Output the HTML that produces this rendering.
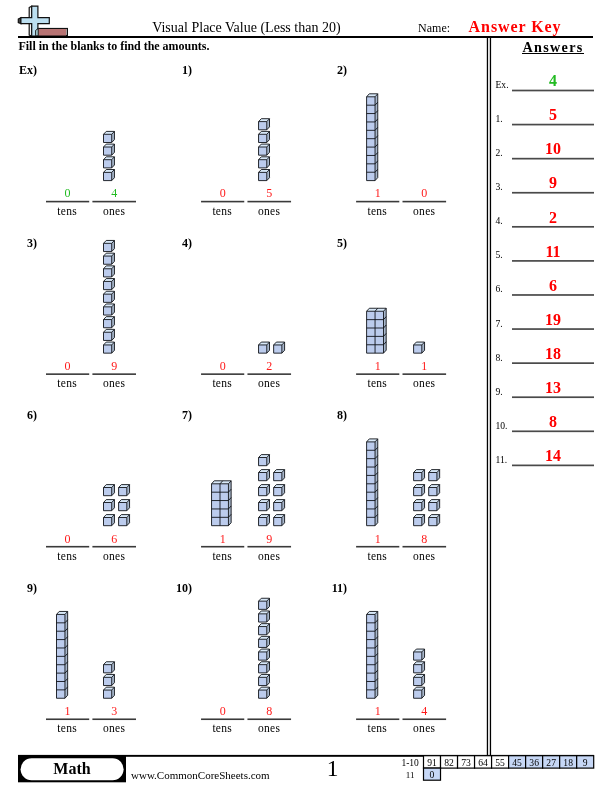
<!DOCTYPE html>
<html><head><meta charset="utf-8"><title>Visual Place Value</title>
<style>
html,body{margin:0;padding:0;background:#fff;}
body{width:612px;height:792px;overflow:hidden;position:relative;}
svg{position:absolute;left:0;top:0;display:block;font-family:"Liberation Serif", serif;transform:translateZ(0);}
</style></head><body>
<svg width="612" height="792" viewBox="0 0 612 792">
<g stroke="#111" stroke-width="1.2" stroke-linejoin="miter">
<path d="M29.2,7.6 L31.7,6.2 L31.7,36 L29.2,35 Z" fill="#f4f4f4"/>
<path d="M18.3,19.0 L20.9,17.7 L20.9,23.6 L18.3,22.6 Z" fill="#444"/>
<path d="M31.7,6.2 L37.9,6.2 L37.9,17.7 L49.3,17.7 L49.3,23.6 L37.9,23.6 L37.9,36 L31.7,36 L31.7,23.6 L20.9,23.6 L20.9,17.7 L31.7,17.7 Z" fill="#bcdff0"/>
<rect x="38.2" y="28.5" width="29.2" height="7" fill="#fff"/>
<rect x="38.2" y="28.5" width="27.9" height="7" fill="#b87474" stroke="none"/>
<path d="M38.2,28.5 H67.4 V35.5" fill="none"/>
<path d="M35.6,30.4 L38.2,28.5 L38.2,35.8 L35.6,35.8 Z" fill="#a9cfd6" stroke-width="0.9"/>
</g>
<rect x="18" y="36" width="575" height="2" fill="#000"/>
<text x="152.20" y="31.80" font-size="14" font-weight="normal" text-anchor="start" fill="#000" textLength="188.4" lengthAdjust="spacing">Visual Place Value (Less than 20)</text>
<text x="418.10" y="31.90" font-size="12" font-weight="normal" text-anchor="start" fill="#000" >Name:</text>
<text x="468.60" y="31.70" font-size="16" font-weight="bold" text-anchor="start" fill="#ff0000" textLength="92" lengthAdjust="spacing">Answer Key</text>
<text x="18.50" y="49.70" font-size="12" font-weight="bold" text-anchor="start" fill="#000" textLength="190.9" lengthAdjust="spacing">Fill in the blanks to find the amounts.</text>
<rect x="486.8" y="38" width="1.3" height="717" fill="#000"/>
<rect x="489.8" y="38" width="1.3" height="717" fill="#000"/>
<text x="522.40" y="51.60" font-size="14.2" font-weight="bold" text-anchor="start" fill="#000" textLength="60" lengthAdjust="spacing">Answers</text>
<rect x="522" y="53" width="62" height="1" fill="#000"/>
<text x="495.50" y="88.00" font-size="9.6" font-weight="normal" text-anchor="start" fill="#000" >Ex.</text>
<rect x="512" y="89.65" width="82" height="1.7" fill="#4a4a4a"/>
<text x="553.00" y="86.10" font-size="16" font-weight="bold" text-anchor="middle" fill="#22bb22" >4</text>
<text x="495.50" y="122.08" font-size="9.6" font-weight="normal" text-anchor="start" fill="#000" >1.</text>
<rect x="512" y="123.73" width="82" height="1.7" fill="#4a4a4a"/>
<text x="553.00" y="120.20" font-size="16" font-weight="bold" text-anchor="middle" fill="#ff0000" >5</text>
<text x="495.50" y="156.16" font-size="9.6" font-weight="normal" text-anchor="start" fill="#000" >2.</text>
<rect x="512" y="157.81" width="82" height="1.7" fill="#4a4a4a"/>
<text x="553.00" y="154.30" font-size="16" font-weight="bold" text-anchor="middle" fill="#ff0000" >10</text>
<text x="495.50" y="190.24" font-size="9.6" font-weight="normal" text-anchor="start" fill="#000" >3.</text>
<rect x="512" y="191.89" width="82" height="1.7" fill="#4a4a4a"/>
<text x="553.00" y="188.40" font-size="16" font-weight="bold" text-anchor="middle" fill="#ff0000" >9</text>
<text x="495.50" y="224.32" font-size="9.6" font-weight="normal" text-anchor="start" fill="#000" >4.</text>
<rect x="512" y="225.97" width="82" height="1.7" fill="#4a4a4a"/>
<text x="553.00" y="222.50" font-size="16" font-weight="bold" text-anchor="middle" fill="#ff0000" >2</text>
<text x="495.50" y="258.40" font-size="9.6" font-weight="normal" text-anchor="start" fill="#000" >5.</text>
<rect x="512" y="260.05" width="82" height="1.7" fill="#4a4a4a"/>
<text x="553.00" y="256.60" font-size="16" font-weight="bold" text-anchor="middle" fill="#ff0000" >11</text>
<text x="495.50" y="292.48" font-size="9.6" font-weight="normal" text-anchor="start" fill="#000" >6.</text>
<rect x="512" y="294.13" width="82" height="1.7" fill="#4a4a4a"/>
<text x="553.00" y="290.70" font-size="16" font-weight="bold" text-anchor="middle" fill="#ff0000" >6</text>
<text x="495.50" y="326.56" font-size="9.6" font-weight="normal" text-anchor="start" fill="#000" >7.</text>
<rect x="512" y="328.21" width="82" height="1.7" fill="#4a4a4a"/>
<text x="553.00" y="324.80" font-size="16" font-weight="bold" text-anchor="middle" fill="#ff0000" >19</text>
<text x="495.50" y="360.64" font-size="9.6" font-weight="normal" text-anchor="start" fill="#000" >8.</text>
<rect x="512" y="362.29" width="82" height="1.7" fill="#4a4a4a"/>
<text x="553.00" y="358.90" font-size="16" font-weight="bold" text-anchor="middle" fill="#ff0000" >18</text>
<text x="495.50" y="394.72" font-size="9.6" font-weight="normal" text-anchor="start" fill="#000" >9.</text>
<rect x="512" y="396.37" width="82" height="1.7" fill="#4a4a4a"/>
<text x="553.00" y="393.00" font-size="16" font-weight="bold" text-anchor="middle" fill="#ff0000" >13</text>
<text x="495.50" y="428.80" font-size="9.6" font-weight="normal" text-anchor="start" fill="#000" >10.</text>
<rect x="512" y="430.45" width="82" height="1.7" fill="#4a4a4a"/>
<text x="553.00" y="427.10" font-size="16" font-weight="bold" text-anchor="middle" fill="#ff0000" >8</text>
<text x="495.50" y="462.88" font-size="9.6" font-weight="normal" text-anchor="start" fill="#000" >11.</text>
<rect x="512" y="464.53" width="82" height="1.7" fill="#4a4a4a"/>
<text x="553.00" y="461.20" font-size="16" font-weight="bold" text-anchor="middle" fill="#ff0000" >14</text>
<text x="36.90" y="74.00" font-size="12" font-weight="bold" text-anchor="end" fill="#000" >Ex)</text>
<rect x="46.00" y="200.80" width="43.2" height="1.6" fill="#3a3a3a"/>
<rect x="92.40" y="200.80" width="43.6" height="1.6" fill="#3a3a3a"/>
<text x="67.60" y="197.40" font-size="12" font-weight="normal" text-anchor="middle" fill="#22bb22" >0</text>
<text x="114.20" y="197.40" font-size="12" font-weight="normal" text-anchor="middle" fill="#22bb22" >4</text>
<text x="67.20" y="214.70" font-size="11.5" font-weight="normal" text-anchor="middle" fill="#000" letter-spacing="0.3">tens</text>
<text x="114.10" y="214.70" font-size="11.5" font-weight="normal" text-anchor="middle" fill="#000" letter-spacing="0.3">ones</text>
<polygon points="103.50,172.40 106.25,169.50 114.45,169.50 111.70,172.40" fill="#d8e8f8"/><polygon points="111.70,172.40 114.45,169.50 114.45,177.70 111.70,180.60" fill="#a8b7cc"/><rect x="103.50" y="172.40" width="8.20" height="8.20" fill="#bccced"/><path d="M103.50,172.40 L106.25,169.50 L114.45,169.50 L114.45,177.70 L111.70,180.60 L103.50,180.60 Z M103.50,172.40 L111.70,172.40 L114.45,169.50 M111.70,172.40 L111.70,180.60" fill="none" stroke="#101318" stroke-width="0.9" stroke-linejoin="miter"/>
<polygon points="103.50,159.70 106.25,156.80 114.45,156.80 111.70,159.70" fill="#d8e8f8"/><polygon points="111.70,159.70 114.45,156.80 114.45,165.00 111.70,167.90" fill="#a8b7cc"/><rect x="103.50" y="159.70" width="8.20" height="8.20" fill="#bccced"/><path d="M103.50,159.70 L106.25,156.80 L114.45,156.80 L114.45,165.00 L111.70,167.90 L103.50,167.90 Z M103.50,159.70 L111.70,159.70 L114.45,156.80 M111.70,159.70 L111.70,167.90" fill="none" stroke="#101318" stroke-width="0.9" stroke-linejoin="miter"/>
<polygon points="103.50,147.00 106.25,144.10 114.45,144.10 111.70,147.00" fill="#d8e8f8"/><polygon points="111.70,147.00 114.45,144.10 114.45,152.30 111.70,155.20" fill="#a8b7cc"/><rect x="103.50" y="147.00" width="8.20" height="8.20" fill="#bccced"/><path d="M103.50,147.00 L106.25,144.10 L114.45,144.10 L114.45,152.30 L111.70,155.20 L103.50,155.20 Z M103.50,147.00 L111.70,147.00 L114.45,144.10 M111.70,147.00 L111.70,155.20" fill="none" stroke="#101318" stroke-width="0.9" stroke-linejoin="miter"/>
<polygon points="103.50,134.30 106.25,131.40 114.45,131.40 111.70,134.30" fill="#d8e8f8"/><polygon points="111.70,134.30 114.45,131.40 114.45,139.60 111.70,142.50" fill="#a8b7cc"/><rect x="103.50" y="134.30" width="8.20" height="8.20" fill="#bccced"/><path d="M103.50,134.30 L106.25,131.40 L114.45,131.40 L114.45,139.60 L111.70,142.50 L103.50,142.50 Z M103.50,134.30 L111.70,134.30 L114.45,131.40 M111.70,134.30 L111.70,142.50" fill="none" stroke="#101318" stroke-width="0.9" stroke-linejoin="miter"/>
<text x="191.95" y="74.00" font-size="12" font-weight="bold" text-anchor="end" fill="#000" >1)</text>
<rect x="201.05" y="200.80" width="43.2" height="1.6" fill="#3a3a3a"/>
<rect x="247.45" y="200.80" width="43.6" height="1.6" fill="#3a3a3a"/>
<text x="222.65" y="197.40" font-size="12" font-weight="normal" text-anchor="middle" fill="#ff1a1a" >0</text>
<text x="269.25" y="197.40" font-size="12" font-weight="normal" text-anchor="middle" fill="#ff1a1a" >5</text>
<text x="222.25" y="214.70" font-size="11.5" font-weight="normal" text-anchor="middle" fill="#000" letter-spacing="0.3">tens</text>
<text x="269.15" y="214.70" font-size="11.5" font-weight="normal" text-anchor="middle" fill="#000" letter-spacing="0.3">ones</text>
<polygon points="258.55,172.40 261.30,169.50 269.50,169.50 266.75,172.40" fill="#d8e8f8"/><polygon points="266.75,172.40 269.50,169.50 269.50,177.70 266.75,180.60" fill="#a8b7cc"/><rect x="258.55" y="172.40" width="8.20" height="8.20" fill="#bccced"/><path d="M258.55,172.40 L261.30,169.50 L269.50,169.50 L269.50,177.70 L266.75,180.60 L258.55,180.60 Z M258.55,172.40 L266.75,172.40 L269.50,169.50 M266.75,172.40 L266.75,180.60" fill="none" stroke="#101318" stroke-width="0.9" stroke-linejoin="miter"/>
<polygon points="258.55,159.70 261.30,156.80 269.50,156.80 266.75,159.70" fill="#d8e8f8"/><polygon points="266.75,159.70 269.50,156.80 269.50,165.00 266.75,167.90" fill="#a8b7cc"/><rect x="258.55" y="159.70" width="8.20" height="8.20" fill="#bccced"/><path d="M258.55,159.70 L261.30,156.80 L269.50,156.80 L269.50,165.00 L266.75,167.90 L258.55,167.90 Z M258.55,159.70 L266.75,159.70 L269.50,156.80 M266.75,159.70 L266.75,167.90" fill="none" stroke="#101318" stroke-width="0.9" stroke-linejoin="miter"/>
<polygon points="258.55,147.00 261.30,144.10 269.50,144.10 266.75,147.00" fill="#d8e8f8"/><polygon points="266.75,147.00 269.50,144.10 269.50,152.30 266.75,155.20" fill="#a8b7cc"/><rect x="258.55" y="147.00" width="8.20" height="8.20" fill="#bccced"/><path d="M258.55,147.00 L261.30,144.10 L269.50,144.10 L269.50,152.30 L266.75,155.20 L258.55,155.20 Z M258.55,147.00 L266.75,147.00 L269.50,144.10 M266.75,147.00 L266.75,155.20" fill="none" stroke="#101318" stroke-width="0.9" stroke-linejoin="miter"/>
<polygon points="258.55,134.30 261.30,131.40 269.50,131.40 266.75,134.30" fill="#d8e8f8"/><polygon points="266.75,134.30 269.50,131.40 269.50,139.60 266.75,142.50" fill="#a8b7cc"/><rect x="258.55" y="134.30" width="8.20" height="8.20" fill="#bccced"/><path d="M258.55,134.30 L261.30,131.40 L269.50,131.40 L269.50,139.60 L266.75,142.50 L258.55,142.50 Z M258.55,134.30 L266.75,134.30 L269.50,131.40 M266.75,134.30 L266.75,142.50" fill="none" stroke="#101318" stroke-width="0.9" stroke-linejoin="miter"/>
<polygon points="258.55,121.60 261.30,118.70 269.50,118.70 266.75,121.60" fill="#d8e8f8"/><polygon points="266.75,121.60 269.50,118.70 269.50,126.90 266.75,129.80" fill="#a8b7cc"/><rect x="258.55" y="121.60" width="8.20" height="8.20" fill="#bccced"/><path d="M258.55,121.60 L261.30,118.70 L269.50,118.70 L269.50,126.90 L266.75,129.80 L258.55,129.80 Z M258.55,121.60 L266.75,121.60 L269.50,118.70 M266.75,121.60 L266.75,129.80" fill="none" stroke="#101318" stroke-width="0.9" stroke-linejoin="miter"/>
<text x="347.00" y="74.00" font-size="12" font-weight="bold" text-anchor="end" fill="#000" >2)</text>
<rect x="356.10" y="200.80" width="43.2" height="1.6" fill="#3a3a3a"/>
<rect x="402.50" y="200.80" width="43.6" height="1.6" fill="#3a3a3a"/>
<text x="377.70" y="197.40" font-size="12" font-weight="normal" text-anchor="middle" fill="#ff1a1a" >1</text>
<text x="424.30" y="197.40" font-size="12" font-weight="normal" text-anchor="middle" fill="#ff1a1a" >0</text>
<text x="377.30" y="214.70" font-size="11.5" font-weight="normal" text-anchor="middle" fill="#000" letter-spacing="0.3">tens</text>
<text x="424.20" y="214.70" font-size="11.5" font-weight="normal" text-anchor="middle" fill="#000" letter-spacing="0.3">ones</text>
<polygon points="366.60,96.80 369.30,93.80 377.75,93.80 375.05,96.80" fill="#d8e8f8"/><polygon points="375.05,96.80 377.75,93.80 377.75,177.60 375.05,180.60" fill="#a8b7cc"/><rect x="366.60" y="96.80" width="8.45" height="83.80" fill="#bccced"/><path d="M366.60,96.80 L369.30,93.80 L377.75,93.80 L377.75,177.60 L375.05,180.60 L366.60,180.60 Z M366.60,96.80 L375.05,96.80 L377.75,93.80 M375.05,96.80 L375.05,180.60 M366.60,105.18 L375.05,105.18 L377.75,102.18 M366.60,113.56 L375.05,113.56 L377.75,110.56 M366.60,121.94 L375.05,121.94 L377.75,118.94 M366.60,130.32 L375.05,130.32 L377.75,127.32 M366.60,138.70 L375.05,138.70 L377.75,135.70 M366.60,147.08 L375.05,147.08 L377.75,144.08 M366.60,155.46 L375.05,155.46 L377.75,152.46 M366.60,163.84 L375.05,163.84 L377.75,160.84 M366.60,172.22 L375.05,172.22 L377.75,169.22" fill="none" stroke="#101318" stroke-width="0.9" stroke-linejoin="miter"/>
<text x="36.90" y="246.55" font-size="12" font-weight="bold" text-anchor="end" fill="#000" >3)</text>
<rect x="46.00" y="373.35" width="43.2" height="1.6" fill="#3a3a3a"/>
<rect x="92.40" y="373.35" width="43.6" height="1.6" fill="#3a3a3a"/>
<text x="67.60" y="369.95" font-size="12" font-weight="normal" text-anchor="middle" fill="#ff1a1a" >0</text>
<text x="114.20" y="369.95" font-size="12" font-weight="normal" text-anchor="middle" fill="#ff1a1a" >9</text>
<text x="67.20" y="387.25" font-size="11.5" font-weight="normal" text-anchor="middle" fill="#000" letter-spacing="0.3">tens</text>
<text x="114.10" y="387.25" font-size="11.5" font-weight="normal" text-anchor="middle" fill="#000" letter-spacing="0.3">ones</text>
<polygon points="103.50,344.95 106.25,342.05 114.45,342.05 111.70,344.95" fill="#d8e8f8"/><polygon points="111.70,344.95 114.45,342.05 114.45,350.25 111.70,353.15" fill="#a8b7cc"/><rect x="103.50" y="344.95" width="8.20" height="8.20" fill="#bccced"/><path d="M103.50,344.95 L106.25,342.05 L114.45,342.05 L114.45,350.25 L111.70,353.15 L103.50,353.15 Z M103.50,344.95 L111.70,344.95 L114.45,342.05 M111.70,344.95 L111.70,353.15" fill="none" stroke="#101318" stroke-width="0.9" stroke-linejoin="miter"/>
<polygon points="103.50,332.25 106.25,329.35 114.45,329.35 111.70,332.25" fill="#d8e8f8"/><polygon points="111.70,332.25 114.45,329.35 114.45,337.55 111.70,340.45" fill="#a8b7cc"/><rect x="103.50" y="332.25" width="8.20" height="8.20" fill="#bccced"/><path d="M103.50,332.25 L106.25,329.35 L114.45,329.35 L114.45,337.55 L111.70,340.45 L103.50,340.45 Z M103.50,332.25 L111.70,332.25 L114.45,329.35 M111.70,332.25 L111.70,340.45" fill="none" stroke="#101318" stroke-width="0.9" stroke-linejoin="miter"/>
<polygon points="103.50,319.55 106.25,316.65 114.45,316.65 111.70,319.55" fill="#d8e8f8"/><polygon points="111.70,319.55 114.45,316.65 114.45,324.85 111.70,327.75" fill="#a8b7cc"/><rect x="103.50" y="319.55" width="8.20" height="8.20" fill="#bccced"/><path d="M103.50,319.55 L106.25,316.65 L114.45,316.65 L114.45,324.85 L111.70,327.75 L103.50,327.75 Z M103.50,319.55 L111.70,319.55 L114.45,316.65 M111.70,319.55 L111.70,327.75" fill="none" stroke="#101318" stroke-width="0.9" stroke-linejoin="miter"/>
<polygon points="103.50,306.85 106.25,303.95 114.45,303.95 111.70,306.85" fill="#d8e8f8"/><polygon points="111.70,306.85 114.45,303.95 114.45,312.15 111.70,315.05" fill="#a8b7cc"/><rect x="103.50" y="306.85" width="8.20" height="8.20" fill="#bccced"/><path d="M103.50,306.85 L106.25,303.95 L114.45,303.95 L114.45,312.15 L111.70,315.05 L103.50,315.05 Z M103.50,306.85 L111.70,306.85 L114.45,303.95 M111.70,306.85 L111.70,315.05" fill="none" stroke="#101318" stroke-width="0.9" stroke-linejoin="miter"/>
<polygon points="103.50,294.15 106.25,291.25 114.45,291.25 111.70,294.15" fill="#d8e8f8"/><polygon points="111.70,294.15 114.45,291.25 114.45,299.45 111.70,302.35" fill="#a8b7cc"/><rect x="103.50" y="294.15" width="8.20" height="8.20" fill="#bccced"/><path d="M103.50,294.15 L106.25,291.25 L114.45,291.25 L114.45,299.45 L111.70,302.35 L103.50,302.35 Z M103.50,294.15 L111.70,294.15 L114.45,291.25 M111.70,294.15 L111.70,302.35" fill="none" stroke="#101318" stroke-width="0.9" stroke-linejoin="miter"/>
<polygon points="103.50,281.45 106.25,278.55 114.45,278.55 111.70,281.45" fill="#d8e8f8"/><polygon points="111.70,281.45 114.45,278.55 114.45,286.75 111.70,289.65" fill="#a8b7cc"/><rect x="103.50" y="281.45" width="8.20" height="8.20" fill="#bccced"/><path d="M103.50,281.45 L106.25,278.55 L114.45,278.55 L114.45,286.75 L111.70,289.65 L103.50,289.65 Z M103.50,281.45 L111.70,281.45 L114.45,278.55 M111.70,281.45 L111.70,289.65" fill="none" stroke="#101318" stroke-width="0.9" stroke-linejoin="miter"/>
<polygon points="103.50,268.75 106.25,265.85 114.45,265.85 111.70,268.75" fill="#d8e8f8"/><polygon points="111.70,268.75 114.45,265.85 114.45,274.05 111.70,276.95" fill="#a8b7cc"/><rect x="103.50" y="268.75" width="8.20" height="8.20" fill="#bccced"/><path d="M103.50,268.75 L106.25,265.85 L114.45,265.85 L114.45,274.05 L111.70,276.95 L103.50,276.95 Z M103.50,268.75 L111.70,268.75 L114.45,265.85 M111.70,268.75 L111.70,276.95" fill="none" stroke="#101318" stroke-width="0.9" stroke-linejoin="miter"/>
<polygon points="103.50,256.05 106.25,253.15 114.45,253.15 111.70,256.05" fill="#d8e8f8"/><polygon points="111.70,256.05 114.45,253.15 114.45,261.35 111.70,264.25" fill="#a8b7cc"/><rect x="103.50" y="256.05" width="8.20" height="8.20" fill="#bccced"/><path d="M103.50,256.05 L106.25,253.15 L114.45,253.15 L114.45,261.35 L111.70,264.25 L103.50,264.25 Z M103.50,256.05 L111.70,256.05 L114.45,253.15 M111.70,256.05 L111.70,264.25" fill="none" stroke="#101318" stroke-width="0.9" stroke-linejoin="miter"/>
<polygon points="103.50,243.35 106.25,240.45 114.45,240.45 111.70,243.35" fill="#d8e8f8"/><polygon points="111.70,243.35 114.45,240.45 114.45,248.65 111.70,251.55" fill="#a8b7cc"/><rect x="103.50" y="243.35" width="8.20" height="8.20" fill="#bccced"/><path d="M103.50,243.35 L106.25,240.45 L114.45,240.45 L114.45,248.65 L111.70,251.55 L103.50,251.55 Z M103.50,243.35 L111.70,243.35 L114.45,240.45 M111.70,243.35 L111.70,251.55" fill="none" stroke="#101318" stroke-width="0.9" stroke-linejoin="miter"/>
<text x="191.95" y="246.55" font-size="12" font-weight="bold" text-anchor="end" fill="#000" >4)</text>
<rect x="201.05" y="373.35" width="43.2" height="1.6" fill="#3a3a3a"/>
<rect x="247.45" y="373.35" width="43.6" height="1.6" fill="#3a3a3a"/>
<text x="222.65" y="369.95" font-size="12" font-weight="normal" text-anchor="middle" fill="#ff1a1a" >0</text>
<text x="269.25" y="369.95" font-size="12" font-weight="normal" text-anchor="middle" fill="#ff1a1a" >2</text>
<text x="222.25" y="387.25" font-size="11.5" font-weight="normal" text-anchor="middle" fill="#000" letter-spacing="0.3">tens</text>
<text x="269.15" y="387.25" font-size="11.5" font-weight="normal" text-anchor="middle" fill="#000" letter-spacing="0.3">ones</text>
<polygon points="258.55,344.95 261.30,342.05 269.50,342.05 266.75,344.95" fill="#d8e8f8"/><polygon points="266.75,344.95 269.50,342.05 269.50,350.25 266.75,353.15" fill="#a8b7cc"/><rect x="258.55" y="344.95" width="8.20" height="8.20" fill="#bccced"/><path d="M258.55,344.95 L261.30,342.05 L269.50,342.05 L269.50,350.25 L266.75,353.15 L258.55,353.15 Z M258.55,344.95 L266.75,344.95 L269.50,342.05 M266.75,344.95 L266.75,353.15" fill="none" stroke="#101318" stroke-width="0.9" stroke-linejoin="miter"/>
<polygon points="273.65,344.95 276.40,342.05 284.60,342.05 281.85,344.95" fill="#d8e8f8"/><polygon points="281.85,344.95 284.60,342.05 284.60,350.25 281.85,353.15" fill="#a8b7cc"/><rect x="273.65" y="344.95" width="8.20" height="8.20" fill="#bccced"/><path d="M273.65,344.95 L276.40,342.05 L284.60,342.05 L284.60,350.25 L281.85,353.15 L273.65,353.15 Z M273.65,344.95 L281.85,344.95 L284.60,342.05 M281.85,344.95 L281.85,353.15" fill="none" stroke="#101318" stroke-width="0.9" stroke-linejoin="miter"/>
<text x="347.00" y="246.55" font-size="12" font-weight="bold" text-anchor="end" fill="#000" >5)</text>
<rect x="356.10" y="373.35" width="43.2" height="1.6" fill="#3a3a3a"/>
<rect x="402.50" y="373.35" width="43.6" height="1.6" fill="#3a3a3a"/>
<text x="377.70" y="369.95" font-size="12" font-weight="normal" text-anchor="middle" fill="#ff1a1a" >1</text>
<text x="424.30" y="369.95" font-size="12" font-weight="normal" text-anchor="middle" fill="#ff1a1a" >1</text>
<text x="377.30" y="387.25" font-size="11.5" font-weight="normal" text-anchor="middle" fill="#000" letter-spacing="0.3">tens</text>
<text x="424.20" y="387.25" font-size="11.5" font-weight="normal" text-anchor="middle" fill="#000" letter-spacing="0.3">ones</text>
<polygon points="366.60,311.25 369.30,308.25 386.20,308.25 383.50,311.25" fill="#d8e8f8"/><polygon points="383.50,311.25 386.20,308.25 386.20,350.15 383.50,353.15" fill="#a8b7cc"/><rect x="366.60" y="311.25" width="16.90" height="41.90" fill="#bccced"/><path d="M366.60,311.25 L369.30,308.25 L386.20,308.25 L386.20,350.15 L383.50,353.15 L366.60,353.15 Z M366.60,311.25 L383.50,311.25 L386.20,308.25 M383.50,311.25 L383.50,353.15 M366.60,319.63 L383.50,319.63 L386.20,316.63 M366.60,328.01 L383.50,328.01 L386.20,325.01 M366.60,336.39 L383.50,336.39 L386.20,333.39 M366.60,344.77 L383.50,344.77 L386.20,341.77 M375.05,353.15 L375.05,311.25 L377.75,308.25" fill="none" stroke="#101318" stroke-width="0.9" stroke-linejoin="miter"/>
<polygon points="413.60,344.95 416.35,342.05 424.55,342.05 421.80,344.95" fill="#d8e8f8"/><polygon points="421.80,344.95 424.55,342.05 424.55,350.25 421.80,353.15" fill="#a8b7cc"/><rect x="413.60" y="344.95" width="8.20" height="8.20" fill="#bccced"/><path d="M413.60,344.95 L416.35,342.05 L424.55,342.05 L424.55,350.25 L421.80,353.15 L413.60,353.15 Z M413.60,344.95 L421.80,344.95 L424.55,342.05 M421.80,344.95 L421.80,353.15" fill="none" stroke="#101318" stroke-width="0.9" stroke-linejoin="miter"/>
<text x="36.90" y="419.10" font-size="12" font-weight="bold" text-anchor="end" fill="#000" >6)</text>
<rect x="46.00" y="545.90" width="43.2" height="1.6" fill="#3a3a3a"/>
<rect x="92.40" y="545.90" width="43.6" height="1.6" fill="#3a3a3a"/>
<text x="67.60" y="542.50" font-size="12" font-weight="normal" text-anchor="middle" fill="#ff1a1a" >0</text>
<text x="114.20" y="542.50" font-size="12" font-weight="normal" text-anchor="middle" fill="#ff1a1a" >6</text>
<text x="67.20" y="559.80" font-size="11.5" font-weight="normal" text-anchor="middle" fill="#000" letter-spacing="0.3">tens</text>
<text x="114.10" y="559.80" font-size="11.5" font-weight="normal" text-anchor="middle" fill="#000" letter-spacing="0.3">ones</text>
<polygon points="103.50,517.50 106.25,514.60 114.45,514.60 111.70,517.50" fill="#d8e8f8"/><polygon points="111.70,517.50 114.45,514.60 114.45,522.80 111.70,525.70" fill="#a8b7cc"/><rect x="103.50" y="517.50" width="8.20" height="8.20" fill="#bccced"/><path d="M103.50,517.50 L106.25,514.60 L114.45,514.60 L114.45,522.80 L111.70,525.70 L103.50,525.70 Z M103.50,517.50 L111.70,517.50 L114.45,514.60 M111.70,517.50 L111.70,525.70" fill="none" stroke="#101318" stroke-width="0.9" stroke-linejoin="miter"/>
<polygon points="118.60,517.50 121.35,514.60 129.55,514.60 126.80,517.50" fill="#d8e8f8"/><polygon points="126.80,517.50 129.55,514.60 129.55,522.80 126.80,525.70" fill="#a8b7cc"/><rect x="118.60" y="517.50" width="8.20" height="8.20" fill="#bccced"/><path d="M118.60,517.50 L121.35,514.60 L129.55,514.60 L129.55,522.80 L126.80,525.70 L118.60,525.70 Z M118.60,517.50 L126.80,517.50 L129.55,514.60 M126.80,517.50 L126.80,525.70" fill="none" stroke="#101318" stroke-width="0.9" stroke-linejoin="miter"/>
<polygon points="103.50,502.50 106.25,499.60 114.45,499.60 111.70,502.50" fill="#d8e8f8"/><polygon points="111.70,502.50 114.45,499.60 114.45,507.80 111.70,510.70" fill="#a8b7cc"/><rect x="103.50" y="502.50" width="8.20" height="8.20" fill="#bccced"/><path d="M103.50,502.50 L106.25,499.60 L114.45,499.60 L114.45,507.80 L111.70,510.70 L103.50,510.70 Z M103.50,502.50 L111.70,502.50 L114.45,499.60 M111.70,502.50 L111.70,510.70" fill="none" stroke="#101318" stroke-width="0.9" stroke-linejoin="miter"/>
<polygon points="118.60,502.50 121.35,499.60 129.55,499.60 126.80,502.50" fill="#d8e8f8"/><polygon points="126.80,502.50 129.55,499.60 129.55,507.80 126.80,510.70" fill="#a8b7cc"/><rect x="118.60" y="502.50" width="8.20" height="8.20" fill="#bccced"/><path d="M118.60,502.50 L121.35,499.60 L129.55,499.60 L129.55,507.80 L126.80,510.70 L118.60,510.70 Z M118.60,502.50 L126.80,502.50 L129.55,499.60 M126.80,502.50 L126.80,510.70" fill="none" stroke="#101318" stroke-width="0.9" stroke-linejoin="miter"/>
<polygon points="103.50,487.50 106.25,484.60 114.45,484.60 111.70,487.50" fill="#d8e8f8"/><polygon points="111.70,487.50 114.45,484.60 114.45,492.80 111.70,495.70" fill="#a8b7cc"/><rect x="103.50" y="487.50" width="8.20" height="8.20" fill="#bccced"/><path d="M103.50,487.50 L106.25,484.60 L114.45,484.60 L114.45,492.80 L111.70,495.70 L103.50,495.70 Z M103.50,487.50 L111.70,487.50 L114.45,484.60 M111.70,487.50 L111.70,495.70" fill="none" stroke="#101318" stroke-width="0.9" stroke-linejoin="miter"/>
<polygon points="118.60,487.50 121.35,484.60 129.55,484.60 126.80,487.50" fill="#d8e8f8"/><polygon points="126.80,487.50 129.55,484.60 129.55,492.80 126.80,495.70" fill="#a8b7cc"/><rect x="118.60" y="487.50" width="8.20" height="8.20" fill="#bccced"/><path d="M118.60,487.50 L121.35,484.60 L129.55,484.60 L129.55,492.80 L126.80,495.70 L118.60,495.70 Z M118.60,487.50 L126.80,487.50 L129.55,484.60 M126.80,487.50 L126.80,495.70" fill="none" stroke="#101318" stroke-width="0.9" stroke-linejoin="miter"/>
<text x="191.95" y="419.10" font-size="12" font-weight="bold" text-anchor="end" fill="#000" >7)</text>
<rect x="201.05" y="545.90" width="43.2" height="1.6" fill="#3a3a3a"/>
<rect x="247.45" y="545.90" width="43.6" height="1.6" fill="#3a3a3a"/>
<text x="222.65" y="542.50" font-size="12" font-weight="normal" text-anchor="middle" fill="#ff1a1a" >1</text>
<text x="269.25" y="542.50" font-size="12" font-weight="normal" text-anchor="middle" fill="#ff1a1a" >9</text>
<text x="222.25" y="559.80" font-size="11.5" font-weight="normal" text-anchor="middle" fill="#000" letter-spacing="0.3">tens</text>
<text x="269.15" y="559.80" font-size="11.5" font-weight="normal" text-anchor="middle" fill="#000" letter-spacing="0.3">ones</text>
<polygon points="211.55,483.80 214.25,480.80 231.15,480.80 228.45,483.80" fill="#d8e8f8"/><polygon points="228.45,483.80 231.15,480.80 231.15,522.70 228.45,525.70" fill="#a8b7cc"/><rect x="211.55" y="483.80" width="16.90" height="41.90" fill="#bccced"/><path d="M211.55,483.80 L214.25,480.80 L231.15,480.80 L231.15,522.70 L228.45,525.70 L211.55,525.70 Z M211.55,483.80 L228.45,483.80 L231.15,480.80 M228.45,483.80 L228.45,525.70 M211.55,492.18 L228.45,492.18 L231.15,489.18 M211.55,500.56 L228.45,500.56 L231.15,497.56 M211.55,508.94 L228.45,508.94 L231.15,505.94 M211.55,517.32 L228.45,517.32 L231.15,514.32 M220.00,525.70 L220.00,483.80 L222.70,480.80" fill="none" stroke="#101318" stroke-width="0.9" stroke-linejoin="miter"/>
<polygon points="258.55,517.50 261.30,514.60 269.50,514.60 266.75,517.50" fill="#d8e8f8"/><polygon points="266.75,517.50 269.50,514.60 269.50,522.80 266.75,525.70" fill="#a8b7cc"/><rect x="258.55" y="517.50" width="8.20" height="8.20" fill="#bccced"/><path d="M258.55,517.50 L261.30,514.60 L269.50,514.60 L269.50,522.80 L266.75,525.70 L258.55,525.70 Z M258.55,517.50 L266.75,517.50 L269.50,514.60 M266.75,517.50 L266.75,525.70" fill="none" stroke="#101318" stroke-width="0.9" stroke-linejoin="miter"/>
<polygon points="273.65,517.50 276.40,514.60 284.60,514.60 281.85,517.50" fill="#d8e8f8"/><polygon points="281.85,517.50 284.60,514.60 284.60,522.80 281.85,525.70" fill="#a8b7cc"/><rect x="273.65" y="517.50" width="8.20" height="8.20" fill="#bccced"/><path d="M273.65,517.50 L276.40,514.60 L284.60,514.60 L284.60,522.80 L281.85,525.70 L273.65,525.70 Z M273.65,517.50 L281.85,517.50 L284.60,514.60 M281.85,517.50 L281.85,525.70" fill="none" stroke="#101318" stroke-width="0.9" stroke-linejoin="miter"/>
<polygon points="258.55,502.50 261.30,499.60 269.50,499.60 266.75,502.50" fill="#d8e8f8"/><polygon points="266.75,502.50 269.50,499.60 269.50,507.80 266.75,510.70" fill="#a8b7cc"/><rect x="258.55" y="502.50" width="8.20" height="8.20" fill="#bccced"/><path d="M258.55,502.50 L261.30,499.60 L269.50,499.60 L269.50,507.80 L266.75,510.70 L258.55,510.70 Z M258.55,502.50 L266.75,502.50 L269.50,499.60 M266.75,502.50 L266.75,510.70" fill="none" stroke="#101318" stroke-width="0.9" stroke-linejoin="miter"/>
<polygon points="273.65,502.50 276.40,499.60 284.60,499.60 281.85,502.50" fill="#d8e8f8"/><polygon points="281.85,502.50 284.60,499.60 284.60,507.80 281.85,510.70" fill="#a8b7cc"/><rect x="273.65" y="502.50" width="8.20" height="8.20" fill="#bccced"/><path d="M273.65,502.50 L276.40,499.60 L284.60,499.60 L284.60,507.80 L281.85,510.70 L273.65,510.70 Z M273.65,502.50 L281.85,502.50 L284.60,499.60 M281.85,502.50 L281.85,510.70" fill="none" stroke="#101318" stroke-width="0.9" stroke-linejoin="miter"/>
<polygon points="258.55,487.50 261.30,484.60 269.50,484.60 266.75,487.50" fill="#d8e8f8"/><polygon points="266.75,487.50 269.50,484.60 269.50,492.80 266.75,495.70" fill="#a8b7cc"/><rect x="258.55" y="487.50" width="8.20" height="8.20" fill="#bccced"/><path d="M258.55,487.50 L261.30,484.60 L269.50,484.60 L269.50,492.80 L266.75,495.70 L258.55,495.70 Z M258.55,487.50 L266.75,487.50 L269.50,484.60 M266.75,487.50 L266.75,495.70" fill="none" stroke="#101318" stroke-width="0.9" stroke-linejoin="miter"/>
<polygon points="273.65,487.50 276.40,484.60 284.60,484.60 281.85,487.50" fill="#d8e8f8"/><polygon points="281.85,487.50 284.60,484.60 284.60,492.80 281.85,495.70" fill="#a8b7cc"/><rect x="273.65" y="487.50" width="8.20" height="8.20" fill="#bccced"/><path d="M273.65,487.50 L276.40,484.60 L284.60,484.60 L284.60,492.80 L281.85,495.70 L273.65,495.70 Z M273.65,487.50 L281.85,487.50 L284.60,484.60 M281.85,487.50 L281.85,495.70" fill="none" stroke="#101318" stroke-width="0.9" stroke-linejoin="miter"/>
<polygon points="258.55,472.50 261.30,469.60 269.50,469.60 266.75,472.50" fill="#d8e8f8"/><polygon points="266.75,472.50 269.50,469.60 269.50,477.80 266.75,480.70" fill="#a8b7cc"/><rect x="258.55" y="472.50" width="8.20" height="8.20" fill="#bccced"/><path d="M258.55,472.50 L261.30,469.60 L269.50,469.60 L269.50,477.80 L266.75,480.70 L258.55,480.70 Z M258.55,472.50 L266.75,472.50 L269.50,469.60 M266.75,472.50 L266.75,480.70" fill="none" stroke="#101318" stroke-width="0.9" stroke-linejoin="miter"/>
<polygon points="273.65,472.50 276.40,469.60 284.60,469.60 281.85,472.50" fill="#d8e8f8"/><polygon points="281.85,472.50 284.60,469.60 284.60,477.80 281.85,480.70" fill="#a8b7cc"/><rect x="273.65" y="472.50" width="8.20" height="8.20" fill="#bccced"/><path d="M273.65,472.50 L276.40,469.60 L284.60,469.60 L284.60,477.80 L281.85,480.70 L273.65,480.70 Z M273.65,472.50 L281.85,472.50 L284.60,469.60 M281.85,472.50 L281.85,480.70" fill="none" stroke="#101318" stroke-width="0.9" stroke-linejoin="miter"/>
<polygon points="258.55,457.50 261.30,454.60 269.50,454.60 266.75,457.50" fill="#d8e8f8"/><polygon points="266.75,457.50 269.50,454.60 269.50,462.80 266.75,465.70" fill="#a8b7cc"/><rect x="258.55" y="457.50" width="8.20" height="8.20" fill="#bccced"/><path d="M258.55,457.50 L261.30,454.60 L269.50,454.60 L269.50,462.80 L266.75,465.70 L258.55,465.70 Z M258.55,457.50 L266.75,457.50 L269.50,454.60 M266.75,457.50 L266.75,465.70" fill="none" stroke="#101318" stroke-width="0.9" stroke-linejoin="miter"/>
<text x="347.00" y="419.10" font-size="12" font-weight="bold" text-anchor="end" fill="#000" >8)</text>
<rect x="356.10" y="545.90" width="43.2" height="1.6" fill="#3a3a3a"/>
<rect x="402.50" y="545.90" width="43.6" height="1.6" fill="#3a3a3a"/>
<text x="377.70" y="542.50" font-size="12" font-weight="normal" text-anchor="middle" fill="#ff1a1a" >1</text>
<text x="424.30" y="542.50" font-size="12" font-weight="normal" text-anchor="middle" fill="#ff1a1a" >8</text>
<text x="377.30" y="559.80" font-size="11.5" font-weight="normal" text-anchor="middle" fill="#000" letter-spacing="0.3">tens</text>
<text x="424.20" y="559.80" font-size="11.5" font-weight="normal" text-anchor="middle" fill="#000" letter-spacing="0.3">ones</text>
<polygon points="366.60,441.90 369.30,438.90 377.75,438.90 375.05,441.90" fill="#d8e8f8"/><polygon points="375.05,441.90 377.75,438.90 377.75,522.70 375.05,525.70" fill="#a8b7cc"/><rect x="366.60" y="441.90" width="8.45" height="83.80" fill="#bccced"/><path d="M366.60,441.90 L369.30,438.90 L377.75,438.90 L377.75,522.70 L375.05,525.70 L366.60,525.70 Z M366.60,441.90 L375.05,441.90 L377.75,438.90 M375.05,441.90 L375.05,525.70 M366.60,450.28 L375.05,450.28 L377.75,447.28 M366.60,458.66 L375.05,458.66 L377.75,455.66 M366.60,467.04 L375.05,467.04 L377.75,464.04 M366.60,475.42 L375.05,475.42 L377.75,472.42 M366.60,483.80 L375.05,483.80 L377.75,480.80 M366.60,492.18 L375.05,492.18 L377.75,489.18 M366.60,500.56 L375.05,500.56 L377.75,497.56 M366.60,508.94 L375.05,508.94 L377.75,505.94 M366.60,517.32 L375.05,517.32 L377.75,514.32" fill="none" stroke="#101318" stroke-width="0.9" stroke-linejoin="miter"/>
<polygon points="413.60,517.50 416.35,514.60 424.55,514.60 421.80,517.50" fill="#d8e8f8"/><polygon points="421.80,517.50 424.55,514.60 424.55,522.80 421.80,525.70" fill="#a8b7cc"/><rect x="413.60" y="517.50" width="8.20" height="8.20" fill="#bccced"/><path d="M413.60,517.50 L416.35,514.60 L424.55,514.60 L424.55,522.80 L421.80,525.70 L413.60,525.70 Z M413.60,517.50 L421.80,517.50 L424.55,514.60 M421.80,517.50 L421.80,525.70" fill="none" stroke="#101318" stroke-width="0.9" stroke-linejoin="miter"/>
<polygon points="428.70,517.50 431.45,514.60 439.65,514.60 436.90,517.50" fill="#d8e8f8"/><polygon points="436.90,517.50 439.65,514.60 439.65,522.80 436.90,525.70" fill="#a8b7cc"/><rect x="428.70" y="517.50" width="8.20" height="8.20" fill="#bccced"/><path d="M428.70,517.50 L431.45,514.60 L439.65,514.60 L439.65,522.80 L436.90,525.70 L428.70,525.70 Z M428.70,517.50 L436.90,517.50 L439.65,514.60 M436.90,517.50 L436.90,525.70" fill="none" stroke="#101318" stroke-width="0.9" stroke-linejoin="miter"/>
<polygon points="413.60,502.50 416.35,499.60 424.55,499.60 421.80,502.50" fill="#d8e8f8"/><polygon points="421.80,502.50 424.55,499.60 424.55,507.80 421.80,510.70" fill="#a8b7cc"/><rect x="413.60" y="502.50" width="8.20" height="8.20" fill="#bccced"/><path d="M413.60,502.50 L416.35,499.60 L424.55,499.60 L424.55,507.80 L421.80,510.70 L413.60,510.70 Z M413.60,502.50 L421.80,502.50 L424.55,499.60 M421.80,502.50 L421.80,510.70" fill="none" stroke="#101318" stroke-width="0.9" stroke-linejoin="miter"/>
<polygon points="428.70,502.50 431.45,499.60 439.65,499.60 436.90,502.50" fill="#d8e8f8"/><polygon points="436.90,502.50 439.65,499.60 439.65,507.80 436.90,510.70" fill="#a8b7cc"/><rect x="428.70" y="502.50" width="8.20" height="8.20" fill="#bccced"/><path d="M428.70,502.50 L431.45,499.60 L439.65,499.60 L439.65,507.80 L436.90,510.70 L428.70,510.70 Z M428.70,502.50 L436.90,502.50 L439.65,499.60 M436.90,502.50 L436.90,510.70" fill="none" stroke="#101318" stroke-width="0.9" stroke-linejoin="miter"/>
<polygon points="413.60,487.50 416.35,484.60 424.55,484.60 421.80,487.50" fill="#d8e8f8"/><polygon points="421.80,487.50 424.55,484.60 424.55,492.80 421.80,495.70" fill="#a8b7cc"/><rect x="413.60" y="487.50" width="8.20" height="8.20" fill="#bccced"/><path d="M413.60,487.50 L416.35,484.60 L424.55,484.60 L424.55,492.80 L421.80,495.70 L413.60,495.70 Z M413.60,487.50 L421.80,487.50 L424.55,484.60 M421.80,487.50 L421.80,495.70" fill="none" stroke="#101318" stroke-width="0.9" stroke-linejoin="miter"/>
<polygon points="428.70,487.50 431.45,484.60 439.65,484.60 436.90,487.50" fill="#d8e8f8"/><polygon points="436.90,487.50 439.65,484.60 439.65,492.80 436.90,495.70" fill="#a8b7cc"/><rect x="428.70" y="487.50" width="8.20" height="8.20" fill="#bccced"/><path d="M428.70,487.50 L431.45,484.60 L439.65,484.60 L439.65,492.80 L436.90,495.70 L428.70,495.70 Z M428.70,487.50 L436.90,487.50 L439.65,484.60 M436.90,487.50 L436.90,495.70" fill="none" stroke="#101318" stroke-width="0.9" stroke-linejoin="miter"/>
<polygon points="413.60,472.50 416.35,469.60 424.55,469.60 421.80,472.50" fill="#d8e8f8"/><polygon points="421.80,472.50 424.55,469.60 424.55,477.80 421.80,480.70" fill="#a8b7cc"/><rect x="413.60" y="472.50" width="8.20" height="8.20" fill="#bccced"/><path d="M413.60,472.50 L416.35,469.60 L424.55,469.60 L424.55,477.80 L421.80,480.70 L413.60,480.70 Z M413.60,472.50 L421.80,472.50 L424.55,469.60 M421.80,472.50 L421.80,480.70" fill="none" stroke="#101318" stroke-width="0.9" stroke-linejoin="miter"/>
<polygon points="428.70,472.50 431.45,469.60 439.65,469.60 436.90,472.50" fill="#d8e8f8"/><polygon points="436.90,472.50 439.65,469.60 439.65,477.80 436.90,480.70" fill="#a8b7cc"/><rect x="428.70" y="472.50" width="8.20" height="8.20" fill="#bccced"/><path d="M428.70,472.50 L431.45,469.60 L439.65,469.60 L439.65,477.80 L436.90,480.70 L428.70,480.70 Z M428.70,472.50 L436.90,472.50 L439.65,469.60 M436.90,472.50 L436.90,480.70" fill="none" stroke="#101318" stroke-width="0.9" stroke-linejoin="miter"/>
<text x="36.90" y="591.65" font-size="12" font-weight="bold" text-anchor="end" fill="#000" >9)</text>
<rect x="46.00" y="718.45" width="43.2" height="1.6" fill="#3a3a3a"/>
<rect x="92.40" y="718.45" width="43.6" height="1.6" fill="#3a3a3a"/>
<text x="67.60" y="715.05" font-size="12" font-weight="normal" text-anchor="middle" fill="#ff1a1a" >1</text>
<text x="114.20" y="715.05" font-size="12" font-weight="normal" text-anchor="middle" fill="#ff1a1a" >3</text>
<text x="67.20" y="732.35" font-size="11.5" font-weight="normal" text-anchor="middle" fill="#000" letter-spacing="0.3">tens</text>
<text x="114.10" y="732.35" font-size="11.5" font-weight="normal" text-anchor="middle" fill="#000" letter-spacing="0.3">ones</text>
<polygon points="56.50,614.45 59.20,611.45 67.65,611.45 64.95,614.45" fill="#d8e8f8"/><polygon points="64.95,614.45 67.65,611.45 67.65,695.25 64.95,698.25" fill="#a8b7cc"/><rect x="56.50" y="614.45" width="8.45" height="83.80" fill="#bccced"/><path d="M56.50,614.45 L59.20,611.45 L67.65,611.45 L67.65,695.25 L64.95,698.25 L56.50,698.25 Z M56.50,614.45 L64.95,614.45 L67.65,611.45 M64.95,614.45 L64.95,698.25 M56.50,622.83 L64.95,622.83 L67.65,619.83 M56.50,631.21 L64.95,631.21 L67.65,628.21 M56.50,639.59 L64.95,639.59 L67.65,636.59 M56.50,647.97 L64.95,647.97 L67.65,644.97 M56.50,656.35 L64.95,656.35 L67.65,653.35 M56.50,664.73 L64.95,664.73 L67.65,661.73 M56.50,673.11 L64.95,673.11 L67.65,670.11 M56.50,681.49 L64.95,681.49 L67.65,678.49 M56.50,689.87 L64.95,689.87 L67.65,686.87" fill="none" stroke="#101318" stroke-width="0.9" stroke-linejoin="miter"/>
<polygon points="103.50,690.05 106.25,687.15 114.45,687.15 111.70,690.05" fill="#d8e8f8"/><polygon points="111.70,690.05 114.45,687.15 114.45,695.35 111.70,698.25" fill="#a8b7cc"/><rect x="103.50" y="690.05" width="8.20" height="8.20" fill="#bccced"/><path d="M103.50,690.05 L106.25,687.15 L114.45,687.15 L114.45,695.35 L111.70,698.25 L103.50,698.25 Z M103.50,690.05 L111.70,690.05 L114.45,687.15 M111.70,690.05 L111.70,698.25" fill="none" stroke="#101318" stroke-width="0.9" stroke-linejoin="miter"/>
<polygon points="103.50,677.35 106.25,674.45 114.45,674.45 111.70,677.35" fill="#d8e8f8"/><polygon points="111.70,677.35 114.45,674.45 114.45,682.65 111.70,685.55" fill="#a8b7cc"/><rect x="103.50" y="677.35" width="8.20" height="8.20" fill="#bccced"/><path d="M103.50,677.35 L106.25,674.45 L114.45,674.45 L114.45,682.65 L111.70,685.55 L103.50,685.55 Z M103.50,677.35 L111.70,677.35 L114.45,674.45 M111.70,677.35 L111.70,685.55" fill="none" stroke="#101318" stroke-width="0.9" stroke-linejoin="miter"/>
<polygon points="103.50,664.65 106.25,661.75 114.45,661.75 111.70,664.65" fill="#d8e8f8"/><polygon points="111.70,664.65 114.45,661.75 114.45,669.95 111.70,672.85" fill="#a8b7cc"/><rect x="103.50" y="664.65" width="8.20" height="8.20" fill="#bccced"/><path d="M103.50,664.65 L106.25,661.75 L114.45,661.75 L114.45,669.95 L111.70,672.85 L103.50,672.85 Z M103.50,664.65 L111.70,664.65 L114.45,661.75 M111.70,664.65 L111.70,672.85" fill="none" stroke="#101318" stroke-width="0.9" stroke-linejoin="miter"/>
<text x="191.95" y="591.65" font-size="12" font-weight="bold" text-anchor="end" fill="#000" >10)</text>
<rect x="201.05" y="718.45" width="43.2" height="1.6" fill="#3a3a3a"/>
<rect x="247.45" y="718.45" width="43.6" height="1.6" fill="#3a3a3a"/>
<text x="222.65" y="715.05" font-size="12" font-weight="normal" text-anchor="middle" fill="#ff1a1a" >0</text>
<text x="269.25" y="715.05" font-size="12" font-weight="normal" text-anchor="middle" fill="#ff1a1a" >8</text>
<text x="222.25" y="732.35" font-size="11.5" font-weight="normal" text-anchor="middle" fill="#000" letter-spacing="0.3">tens</text>
<text x="269.15" y="732.35" font-size="11.5" font-weight="normal" text-anchor="middle" fill="#000" letter-spacing="0.3">ones</text>
<polygon points="258.55,690.05 261.30,687.15 269.50,687.15 266.75,690.05" fill="#d8e8f8"/><polygon points="266.75,690.05 269.50,687.15 269.50,695.35 266.75,698.25" fill="#a8b7cc"/><rect x="258.55" y="690.05" width="8.20" height="8.20" fill="#bccced"/><path d="M258.55,690.05 L261.30,687.15 L269.50,687.15 L269.50,695.35 L266.75,698.25 L258.55,698.25 Z M258.55,690.05 L266.75,690.05 L269.50,687.15 M266.75,690.05 L266.75,698.25" fill="none" stroke="#101318" stroke-width="0.9" stroke-linejoin="miter"/>
<polygon points="258.55,677.35 261.30,674.45 269.50,674.45 266.75,677.35" fill="#d8e8f8"/><polygon points="266.75,677.35 269.50,674.45 269.50,682.65 266.75,685.55" fill="#a8b7cc"/><rect x="258.55" y="677.35" width="8.20" height="8.20" fill="#bccced"/><path d="M258.55,677.35 L261.30,674.45 L269.50,674.45 L269.50,682.65 L266.75,685.55 L258.55,685.55 Z M258.55,677.35 L266.75,677.35 L269.50,674.45 M266.75,677.35 L266.75,685.55" fill="none" stroke="#101318" stroke-width="0.9" stroke-linejoin="miter"/>
<polygon points="258.55,664.65 261.30,661.75 269.50,661.75 266.75,664.65" fill="#d8e8f8"/><polygon points="266.75,664.65 269.50,661.75 269.50,669.95 266.75,672.85" fill="#a8b7cc"/><rect x="258.55" y="664.65" width="8.20" height="8.20" fill="#bccced"/><path d="M258.55,664.65 L261.30,661.75 L269.50,661.75 L269.50,669.95 L266.75,672.85 L258.55,672.85 Z M258.55,664.65 L266.75,664.65 L269.50,661.75 M266.75,664.65 L266.75,672.85" fill="none" stroke="#101318" stroke-width="0.9" stroke-linejoin="miter"/>
<polygon points="258.55,651.95 261.30,649.05 269.50,649.05 266.75,651.95" fill="#d8e8f8"/><polygon points="266.75,651.95 269.50,649.05 269.50,657.25 266.75,660.15" fill="#a8b7cc"/><rect x="258.55" y="651.95" width="8.20" height="8.20" fill="#bccced"/><path d="M258.55,651.95 L261.30,649.05 L269.50,649.05 L269.50,657.25 L266.75,660.15 L258.55,660.15 Z M258.55,651.95 L266.75,651.95 L269.50,649.05 M266.75,651.95 L266.75,660.15" fill="none" stroke="#101318" stroke-width="0.9" stroke-linejoin="miter"/>
<polygon points="258.55,639.25 261.30,636.35 269.50,636.35 266.75,639.25" fill="#d8e8f8"/><polygon points="266.75,639.25 269.50,636.35 269.50,644.55 266.75,647.45" fill="#a8b7cc"/><rect x="258.55" y="639.25" width="8.20" height="8.20" fill="#bccced"/><path d="M258.55,639.25 L261.30,636.35 L269.50,636.35 L269.50,644.55 L266.75,647.45 L258.55,647.45 Z M258.55,639.25 L266.75,639.25 L269.50,636.35 M266.75,639.25 L266.75,647.45" fill="none" stroke="#101318" stroke-width="0.9" stroke-linejoin="miter"/>
<polygon points="258.55,626.55 261.30,623.65 269.50,623.65 266.75,626.55" fill="#d8e8f8"/><polygon points="266.75,626.55 269.50,623.65 269.50,631.85 266.75,634.75" fill="#a8b7cc"/><rect x="258.55" y="626.55" width="8.20" height="8.20" fill="#bccced"/><path d="M258.55,626.55 L261.30,623.65 L269.50,623.65 L269.50,631.85 L266.75,634.75 L258.55,634.75 Z M258.55,626.55 L266.75,626.55 L269.50,623.65 M266.75,626.55 L266.75,634.75" fill="none" stroke="#101318" stroke-width="0.9" stroke-linejoin="miter"/>
<polygon points="258.55,613.85 261.30,610.95 269.50,610.95 266.75,613.85" fill="#d8e8f8"/><polygon points="266.75,613.85 269.50,610.95 269.50,619.15 266.75,622.05" fill="#a8b7cc"/><rect x="258.55" y="613.85" width="8.20" height="8.20" fill="#bccced"/><path d="M258.55,613.85 L261.30,610.95 L269.50,610.95 L269.50,619.15 L266.75,622.05 L258.55,622.05 Z M258.55,613.85 L266.75,613.85 L269.50,610.95 M266.75,613.85 L266.75,622.05" fill="none" stroke="#101318" stroke-width="0.9" stroke-linejoin="miter"/>
<polygon points="258.55,601.15 261.30,598.25 269.50,598.25 266.75,601.15" fill="#d8e8f8"/><polygon points="266.75,601.15 269.50,598.25 269.50,606.45 266.75,609.35" fill="#a8b7cc"/><rect x="258.55" y="601.15" width="8.20" height="8.20" fill="#bccced"/><path d="M258.55,601.15 L261.30,598.25 L269.50,598.25 L269.50,606.45 L266.75,609.35 L258.55,609.35 Z M258.55,601.15 L266.75,601.15 L269.50,598.25 M266.75,601.15 L266.75,609.35" fill="none" stroke="#101318" stroke-width="0.9" stroke-linejoin="miter"/>
<text x="347.00" y="591.65" font-size="12" font-weight="bold" text-anchor="end" fill="#000" >11)</text>
<rect x="356.10" y="718.45" width="43.2" height="1.6" fill="#3a3a3a"/>
<rect x="402.50" y="718.45" width="43.6" height="1.6" fill="#3a3a3a"/>
<text x="377.70" y="715.05" font-size="12" font-weight="normal" text-anchor="middle" fill="#ff1a1a" >1</text>
<text x="424.30" y="715.05" font-size="12" font-weight="normal" text-anchor="middle" fill="#ff1a1a" >4</text>
<text x="377.30" y="732.35" font-size="11.5" font-weight="normal" text-anchor="middle" fill="#000" letter-spacing="0.3">tens</text>
<text x="424.20" y="732.35" font-size="11.5" font-weight="normal" text-anchor="middle" fill="#000" letter-spacing="0.3">ones</text>
<polygon points="366.60,614.45 369.30,611.45 377.75,611.45 375.05,614.45" fill="#d8e8f8"/><polygon points="375.05,614.45 377.75,611.45 377.75,695.25 375.05,698.25" fill="#a8b7cc"/><rect x="366.60" y="614.45" width="8.45" height="83.80" fill="#bccced"/><path d="M366.60,614.45 L369.30,611.45 L377.75,611.45 L377.75,695.25 L375.05,698.25 L366.60,698.25 Z M366.60,614.45 L375.05,614.45 L377.75,611.45 M375.05,614.45 L375.05,698.25 M366.60,622.83 L375.05,622.83 L377.75,619.83 M366.60,631.21 L375.05,631.21 L377.75,628.21 M366.60,639.59 L375.05,639.59 L377.75,636.59 M366.60,647.97 L375.05,647.97 L377.75,644.97 M366.60,656.35 L375.05,656.35 L377.75,653.35 M366.60,664.73 L375.05,664.73 L377.75,661.73 M366.60,673.11 L375.05,673.11 L377.75,670.11 M366.60,681.49 L375.05,681.49 L377.75,678.49 M366.60,689.87 L375.05,689.87 L377.75,686.87" fill="none" stroke="#101318" stroke-width="0.9" stroke-linejoin="miter"/>
<polygon points="413.60,690.05 416.35,687.15 424.55,687.15 421.80,690.05" fill="#d8e8f8"/><polygon points="421.80,690.05 424.55,687.15 424.55,695.35 421.80,698.25" fill="#a8b7cc"/><rect x="413.60" y="690.05" width="8.20" height="8.20" fill="#bccced"/><path d="M413.60,690.05 L416.35,687.15 L424.55,687.15 L424.55,695.35 L421.80,698.25 L413.60,698.25 Z M413.60,690.05 L421.80,690.05 L424.55,687.15 M421.80,690.05 L421.80,698.25" fill="none" stroke="#101318" stroke-width="0.9" stroke-linejoin="miter"/>
<polygon points="413.60,677.35 416.35,674.45 424.55,674.45 421.80,677.35" fill="#d8e8f8"/><polygon points="421.80,677.35 424.55,674.45 424.55,682.65 421.80,685.55" fill="#a8b7cc"/><rect x="413.60" y="677.35" width="8.20" height="8.20" fill="#bccced"/><path d="M413.60,677.35 L416.35,674.45 L424.55,674.45 L424.55,682.65 L421.80,685.55 L413.60,685.55 Z M413.60,677.35 L421.80,677.35 L424.55,674.45 M421.80,677.35 L421.80,685.55" fill="none" stroke="#101318" stroke-width="0.9" stroke-linejoin="miter"/>
<polygon points="413.60,664.65 416.35,661.75 424.55,661.75 421.80,664.65" fill="#d8e8f8"/><polygon points="421.80,664.65 424.55,661.75 424.55,669.95 421.80,672.85" fill="#a8b7cc"/><rect x="413.60" y="664.65" width="8.20" height="8.20" fill="#bccced"/><path d="M413.60,664.65 L416.35,661.75 L424.55,661.75 L424.55,669.95 L421.80,672.85 L413.60,672.85 Z M413.60,664.65 L421.80,664.65 L424.55,661.75 M421.80,664.65 L421.80,672.85" fill="none" stroke="#101318" stroke-width="0.9" stroke-linejoin="miter"/>
<polygon points="413.60,651.95 416.35,649.05 424.55,649.05 421.80,651.95" fill="#d8e8f8"/><polygon points="421.80,651.95 424.55,649.05 424.55,657.25 421.80,660.15" fill="#a8b7cc"/><rect x="413.60" y="651.95" width="8.20" height="8.20" fill="#bccced"/><path d="M413.60,651.95 L416.35,649.05 L424.55,649.05 L424.55,657.25 L421.80,660.15 L413.60,660.15 Z M413.60,651.95 L421.80,651.95 L424.55,649.05 M421.80,651.95 L421.80,660.15" fill="none" stroke="#101318" stroke-width="0.9" stroke-linejoin="miter"/>
<rect x="18" y="754.9" width="108" height="27.4" fill="#000"/>
<rect x="20.6" y="758.3" width="103" height="22" rx="11" ry="11" fill="#fff"/>
<text x="72.00" y="773.80" font-size="16" font-weight="bold" text-anchor="middle" fill="#000" >Math</text>
<rect x="126" y="754.9" width="468" height="1.9" fill="#000"/>
<text x="131.00" y="779.40" font-size="11" font-weight="normal" text-anchor="start" fill="#000" >www.CommonCoreSheets.com</text>
<text x="332.50" y="776.40" font-size="23.5" font-weight="normal" text-anchor="middle" fill="#000" >1</text>
<text x="418.80" y="766.00" font-size="9.5" font-weight="normal" text-anchor="end" fill="#000" >1-10</text>
<text x="410.20" y="777.50" font-size="9" font-weight="normal" text-anchor="middle" fill="#000" >11</text>
<rect x="423.50" y="755.7" width="17.02" height="12.4" fill="#fff" stroke="#000" stroke-width="1.2"/>
<text x="432.01" y="765.60" font-size="9.6" font-weight="normal" text-anchor="middle" fill="#000" >91</text>
<rect x="440.52" y="755.7" width="17.02" height="12.4" fill="#fff" stroke="#000" stroke-width="1.2"/>
<text x="449.03" y="765.60" font-size="9.6" font-weight="normal" text-anchor="middle" fill="#000" >82</text>
<rect x="457.54" y="755.7" width="17.02" height="12.4" fill="#fff" stroke="#000" stroke-width="1.2"/>
<text x="466.05" y="765.60" font-size="9.6" font-weight="normal" text-anchor="middle" fill="#000" >73</text>
<rect x="474.56" y="755.7" width="17.02" height="12.4" fill="#fff" stroke="#000" stroke-width="1.2"/>
<text x="483.07" y="765.60" font-size="9.6" font-weight="normal" text-anchor="middle" fill="#000" >64</text>
<rect x="491.58" y="755.7" width="17.02" height="12.4" fill="#fff" stroke="#000" stroke-width="1.2"/>
<text x="500.09" y="765.60" font-size="9.6" font-weight="normal" text-anchor="middle" fill="#000" >55</text>
<rect x="508.60" y="755.7" width="17.02" height="12.4" fill="#c6d7f6" stroke="#000" stroke-width="1.2"/>
<text x="517.11" y="765.60" font-size="9.6" font-weight="normal" text-anchor="middle" fill="#000" >45</text>
<rect x="525.62" y="755.7" width="17.02" height="12.4" fill="#c6d7f6" stroke="#000" stroke-width="1.2"/>
<text x="534.13" y="765.60" font-size="9.6" font-weight="normal" text-anchor="middle" fill="#000" >36</text>
<rect x="542.64" y="755.7" width="17.02" height="12.4" fill="#c6d7f6" stroke="#000" stroke-width="1.2"/>
<text x="551.15" y="765.60" font-size="9.6" font-weight="normal" text-anchor="middle" fill="#000" >27</text>
<rect x="559.66" y="755.7" width="17.02" height="12.4" fill="#c6d7f6" stroke="#000" stroke-width="1.2"/>
<text x="568.17" y="765.60" font-size="9.6" font-weight="normal" text-anchor="middle" fill="#000" >18</text>
<rect x="576.68" y="755.7" width="17.02" height="12.4" fill="#c6d7f6" stroke="#000" stroke-width="1.2"/>
<text x="585.19" y="765.60" font-size="9.6" font-weight="normal" text-anchor="middle" fill="#000" >9</text>
<rect x="423.5" y="768.1" width="17.02" height="12.1" fill="#c6d7f6" stroke="#000" stroke-width="1.2"/>
<text x="432.01" y="777.70" font-size="9.6" font-weight="normal" text-anchor="middle" fill="#000" >0</text>
</svg>
</body></html>
